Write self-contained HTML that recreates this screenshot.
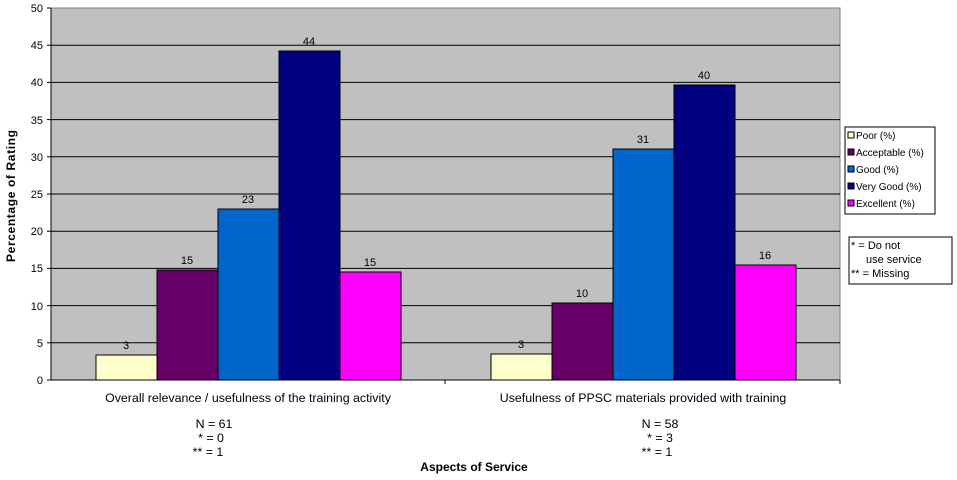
<!DOCTYPE html>
<html><head><meta charset="utf-8"><style>body{margin:0;background:#fff}svg{display:block}text{font-family:"Liberation Sans",sans-serif;fill:#000}</style></head><body>
<svg width="957" height="480" viewBox="0 0 957 480" xmlns="http://www.w3.org/2000/svg">
<rect x="51" y="8" width="789" height="372" fill="#c0c0c0" stroke="#808080" stroke-width="1"/>
<g stroke="#000" stroke-width="1">
<line x1="51" y1="45.2" x2="840" y2="45.2"/><line x1="51" y1="82.4" x2="840" y2="82.4"/><line x1="51" y1="119.6" x2="840" y2="119.6"/><line x1="51" y1="156.8" x2="840" y2="156.8"/><line x1="51" y1="194" x2="840" y2="194"/><line x1="51" y1="231.2" x2="840" y2="231.2"/><line x1="51" y1="268.4" x2="840" y2="268.4"/><line x1="51" y1="305.6" x2="840" y2="305.6"/><line x1="51" y1="342.8" x2="840" y2="342.8"/>
<line x1="51" y1="8" x2="51" y2="380"/><line x1="51" y1="380" x2="840" y2="380"/>
<line x1="47" y1="8" x2="51" y2="8"/><line x1="47" y1="45.2" x2="51" y2="45.2"/><line x1="47" y1="82.4" x2="51" y2="82.4"/><line x1="47" y1="119.6" x2="51" y2="119.6"/><line x1="47" y1="156.8" x2="51" y2="156.8"/><line x1="47" y1="194" x2="51" y2="194"/><line x1="47" y1="231.2" x2="51" y2="231.2"/><line x1="47" y1="268.4" x2="51" y2="268.4"/><line x1="47" y1="305.6" x2="51" y2="305.6"/><line x1="47" y1="342.8" x2="51" y2="342.8"/><line x1="47" y1="380" x2="51" y2="380"/>
<line x1="445" y1="380" x2="445" y2="384"/><line x1="840" y1="380" x2="840" y2="384"/>
</g>
<g font-size="11" text-anchor="end">
<text x="43" y="12">50</text><text x="43" y="49">45</text><text x="43" y="86">40</text><text x="43" y="124">35</text><text x="43" y="161">30</text><text x="43" y="198">25</text><text x="43" y="235">20</text><text x="43" y="272">15</text><text x="43" y="310">10</text><text x="43" y="347">5</text><text x="43" y="384">0</text>
</g>
<g stroke="#000" stroke-width="1">
<rect x="96" y="355" width="61" height="25" fill="#ffffcc"/>
<rect x="157" y="270" width="61" height="110" fill="#660066"/>
<rect x="218" y="209" width="61" height="171" fill="#0066cc"/>
<rect x="279" y="51" width="61" height="329" fill="#000080"/>
<rect x="340" y="272" width="61" height="108" fill="#ff00ff"/>
<rect x="491" y="354" width="61" height="26" fill="#ffffcc"/>
<rect x="552" y="303" width="61" height="77" fill="#660066"/>
<rect x="613" y="149" width="61" height="231" fill="#0066cc"/>
<rect x="674" y="85" width="61" height="295" fill="#000080"/>
<rect x="735" y="265" width="61" height="115" fill="#ff00ff"/>
</g>
<g font-size="11" text-anchor="middle">
<text x="126" y="349">3</text><text x="187" y="264">15</text><text x="248" y="203">23</text><text x="309" y="45">44</text><text x="370" y="266">15</text>
<text x="521" y="348">3</text><text x="582" y="297">10</text><text x="643" y="143">31</text><text x="704" y="79">40</text><text x="765" y="259">16</text>
</g>
<g font-size="12.4" text-anchor="middle">
<text x="248" y="402">Overall relevance / usefulness of the training activity</text>
<text x="643" y="402">Usefulness of PPSC materials provided with training</text>
<text x="214" y="428">N = 61</text><text x="211" y="442">* = 0</text><text x="208" y="456">** = 1</text>
<text x="660" y="428">N = 58</text><text x="660" y="442"> * = 3</text><text x="657" y="456">** = 1</text>
</g>
<text x="474" y="471" text-anchor="middle" font-weight="bold" font-size="12">Aspects of Service</text>
<text transform="translate(15,196) rotate(-90)" text-anchor="middle" font-size="12" font-weight="bold" textLength="132">Percentage of Rating</text>
<rect x="845" y="127" width="90" height="87" fill="#fff" stroke="#000"/>
<g font-size="10" stroke="#000" stroke-width="1">
<rect x="848" y="132" width="6" height="6" fill="#ffffcc"/><rect x="848" y="149" width="6" height="6" fill="#660066"/><rect x="848" y="166" width="6" height="6" fill="#0066cc"/><rect x="848" y="183" width="6" height="6" fill="#000080"/><rect x="848" y="200" width="6" height="6" fill="#ff00ff"/>
</g>
<g font-size="10">
<text x="856" y="139">Poor (%)</text><text x="856" y="156">Acceptable (%)</text><text x="856" y="173">Good (%)</text><text x="856" y="190">Very Good (%)</text><text x="856" y="207">Excellent (%)</text>
</g>
<rect x="849" y="237" width="103" height="47" fill="#fff" stroke="#000"/>
<g font-size="11"><text x="851" y="249">* = Do not</text><text x="866" y="263">use service</text><text x="851" y="277">** = Missing</text></g>
</svg>
</body></html>
